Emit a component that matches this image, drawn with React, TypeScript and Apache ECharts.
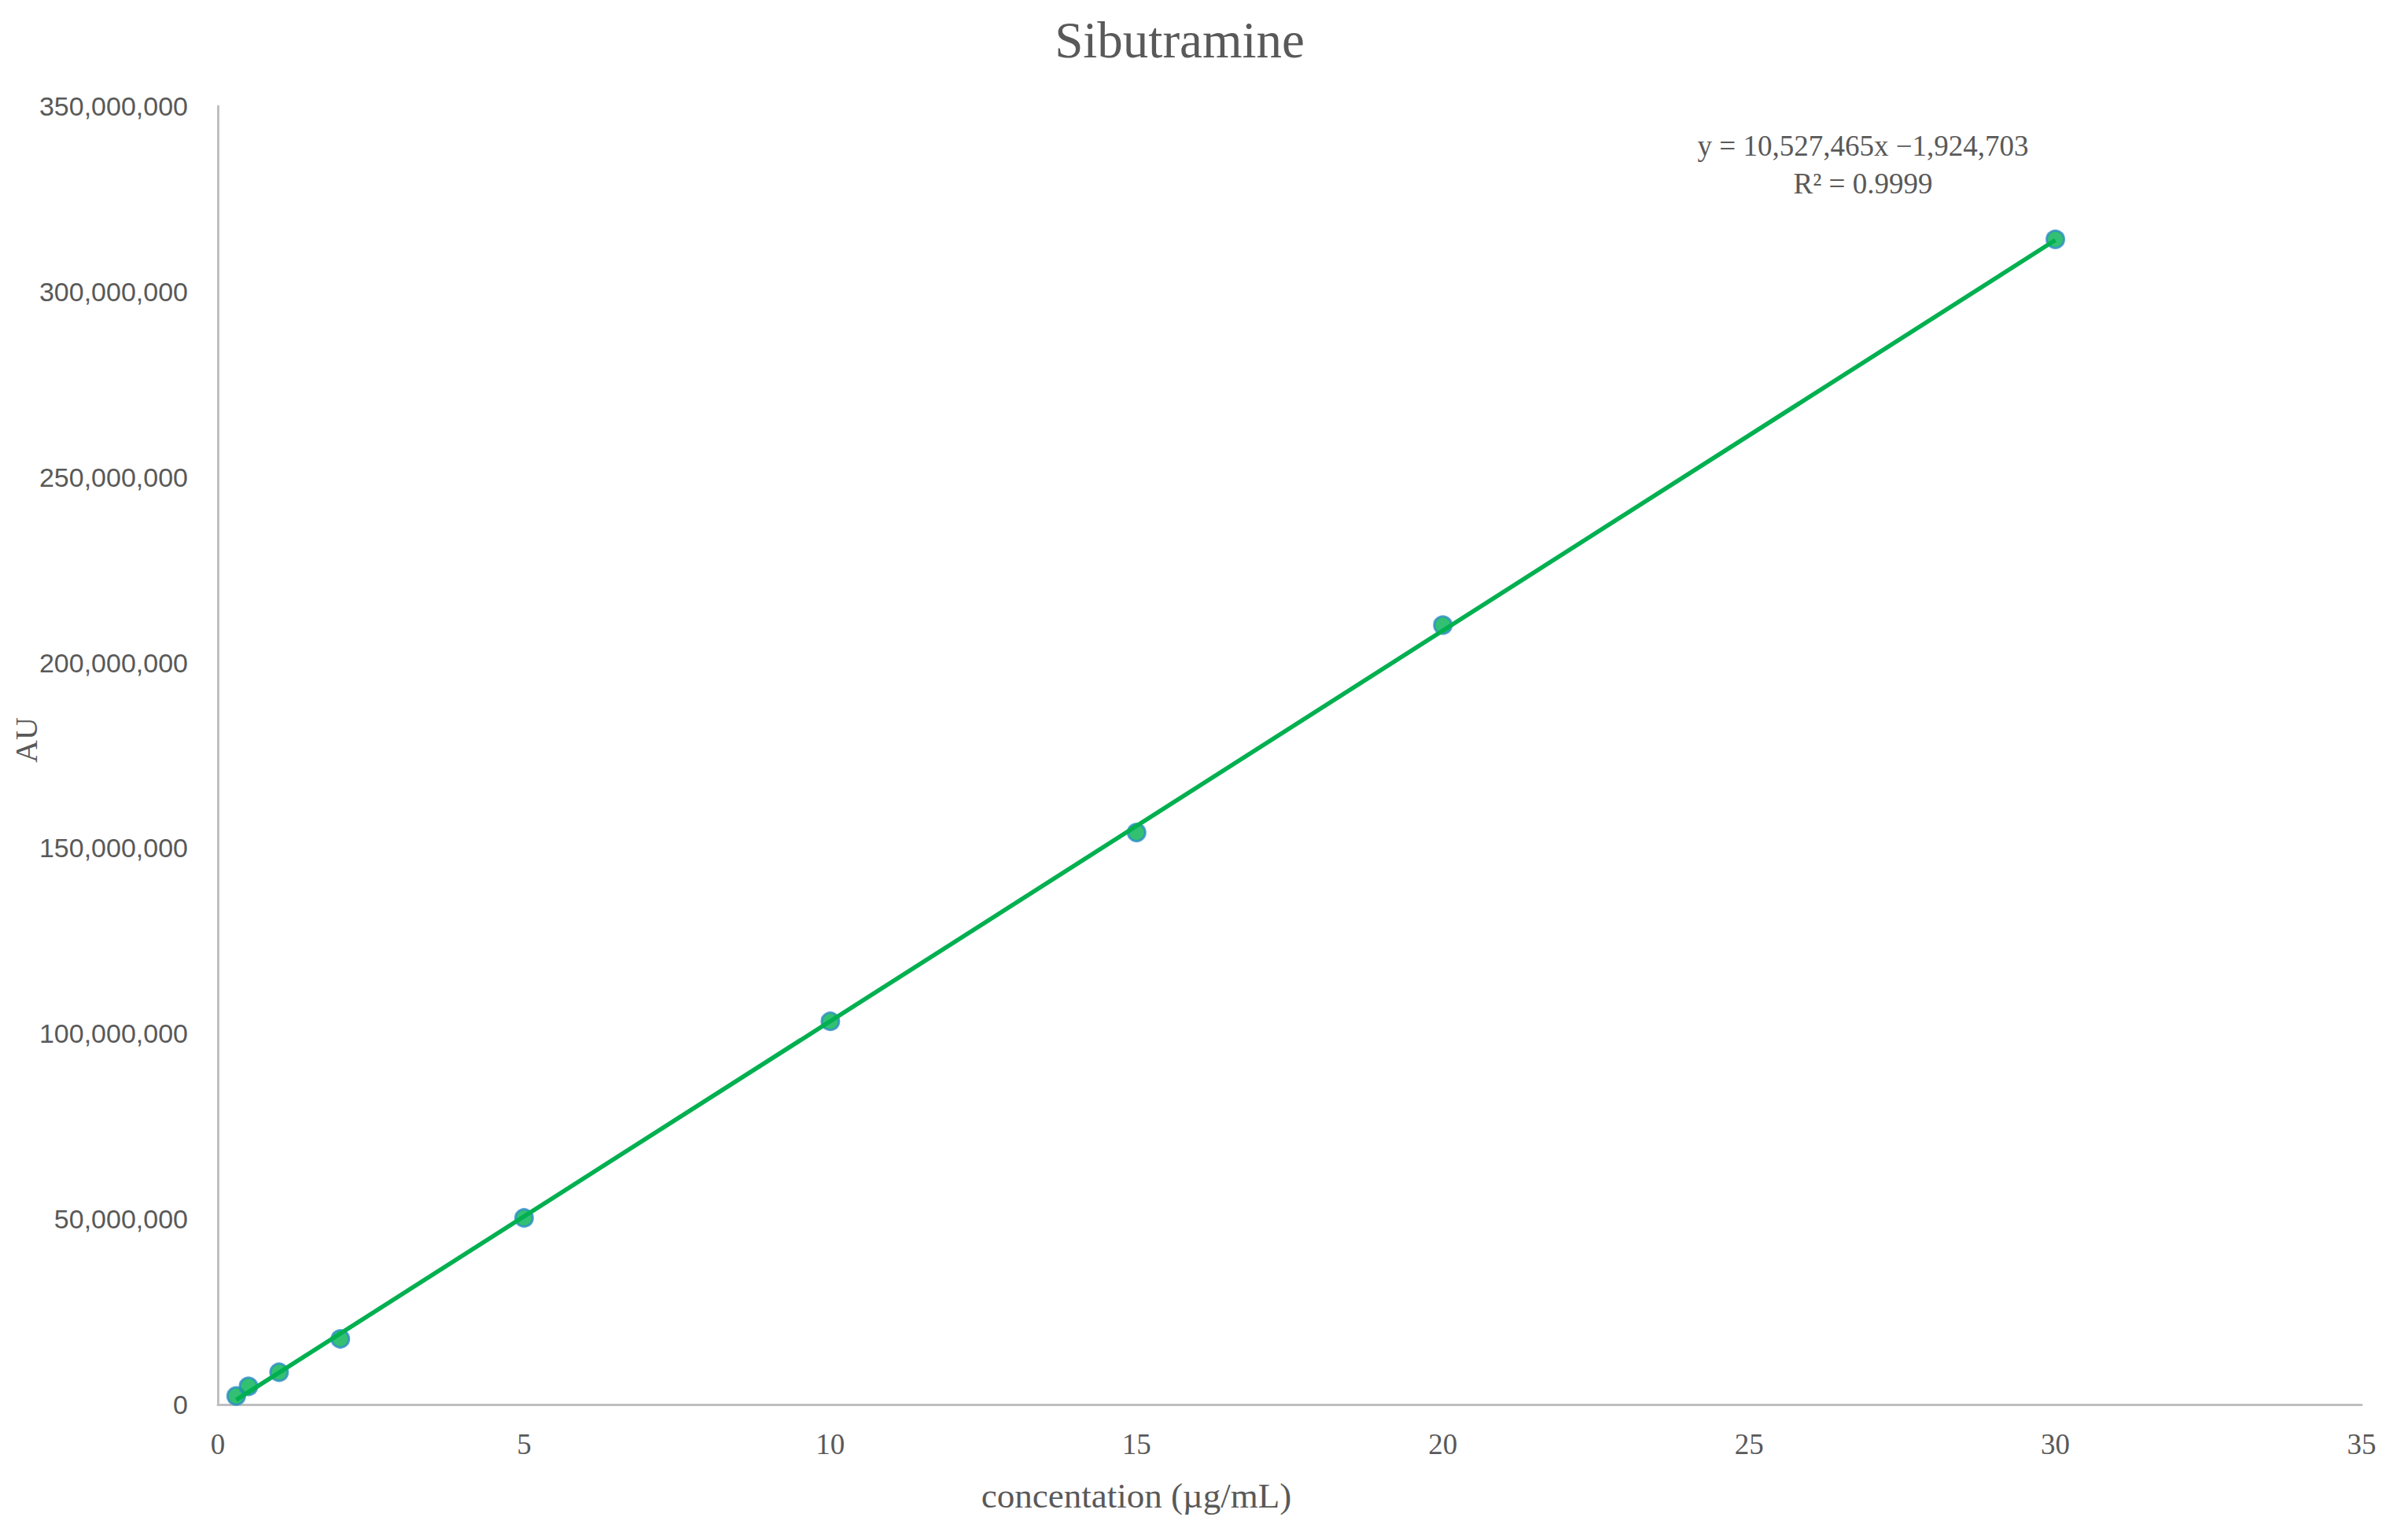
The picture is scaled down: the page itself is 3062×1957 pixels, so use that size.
import React, { useEffect, useRef } from "react";
import * as echarts from "echarts";

const titleText = "Sibutramine";
const xAxisTitle = "concentation (µg/mL)";
const yAxisTitle = "AU";
const concentrations = [0.3, 0.5, 1, 2, 5, 10, 15, 20, 30];
const auValues = [2300000, 4900000, 8700000, 17700000, 50300000, 103300000, 154200000, 210100000, 314100000];
const slope = 10527465;
const intercept = -1924703;
const equationLine = "y = 10,527,465x −1,924,703";
const r2Line = "R² = 0.9999";
const xMin = 0, xMax = 35, xStep = 5;
const yMin = 0, yMax = 350000000, yStep = 50000000;

const TEXT = "#595959";
const GREEN = "#00B050";
const SERIF = "'Liberation Serif', 'DejaVu Serif', serif";
const SANS = "'Liberation Sans', Arial, sans-serif";

export default function App() {
  const ref = useRef<HTMLDivElement>(null);
  useEffect(() => {
    if (!ref.current) return;
    const chart = echarts.init(ref.current, null, { renderer: "svg" });
    const points = concentrations.map((x, i) => [x, auValues[i]]);
    const x0 = concentrations[0];
    const x1 = concentrations[concentrations.length - 1];
    const trend = [
      [x0, slope * x0 + intercept],
      [x1, slope * x1 + intercept],
    ];
    chart.setOption({
      animation: false,
      backgroundColor: "#ffffff",
      grid: { left: 277, right: 59, top: 135, bottom: 171, containLabel: false },
      xAxis: {
        type: "value",
        min: xMin,
        max: xMax,
        interval: xStep,
        axisLine: { show: true, onZero: false, lineStyle: { color: "#BFBFBF", width: 3 } },
        axisTick: { show: false },
        splitLine: { show: false },
        axisLabel: { color: TEXT, fontFamily: SERIF, fontSize: 37, margin: 32 },
      },
      yAxis: {
        type: "value",
        min: yMin,
        max: yMax,
        interval: yStep,
        axisLine: { show: true, lineStyle: { color: "#BFBFBF", width: 3 } },
        axisTick: { show: false },
        splitLine: { show: false },
        axisLabel: {
          color: TEXT,
          fontFamily: SANS,
          fontSize: 34,
          margin: 38,
          formatter: (v: number) => v.toLocaleString("en-US"),
        },
      },
      series: [
        {
          type: "scatter",
          data: points,
          symbol: "circle",
          symbolSize: 22,
          itemStyle: { color: GREEN, borderColor: "#2A8CC4", borderWidth: 3 },
          z: 2,
        },
        {
          type: "line",
          data: trend,
          showSymbol: false,
          symbol: "none",
          lineStyle: { color: GREEN, width: 5.5 },
          z: 3,
        },
      ],
      graphic: [
        {
          type: "text",
          x: 1500,
          y: 51,
          style: {
            text: titleText,
            fill: TEXT,
            font: `65px ${SERIF}`,
            textAlign: "center",
            textVerticalAlign: "middle",
          },
        },
        {
          type: "text",
          x: 1445,
          y: 1902,
          style: {
            text: xAxisTitle,
            fill: TEXT,
            font: `45px ${SERIF}`,
            textAlign: "center",
            textVerticalAlign: "middle",
          },
        },
        {
          type: "text",
          x: 33,
          y: 941,
          rotation: Math.PI / 2,
          style: {
            text: yAxisTitle,
            fill: TEXT,
            font: `40px ${SERIF}`,
            textAlign: "center",
            textVerticalAlign: "middle",
          },
        },
        {
          type: "text",
          x: 2369,
          y: 185,
          style: {
            text: equationLine,
            fill: TEXT,
            font: `37px ${SERIF}`,
            textAlign: "center",
            textVerticalAlign: "middle",
          },
        },
        {
          type: "text",
          x: 2369,
          y: 233,
          style: {
            text: r2Line,
            fill: TEXT,
            font: `37px ${SERIF}`,
            textAlign: "center",
            textVerticalAlign: "middle",
          },
        },
      ],
    });
    return () => chart.dispose();
  }, []);
  return (
    <div
      ref={ref}
      style={{ position: "fixed", left: 0, top: 0, width: 3062, height: 1957, background: "#fff" }}
    />
  );
}
